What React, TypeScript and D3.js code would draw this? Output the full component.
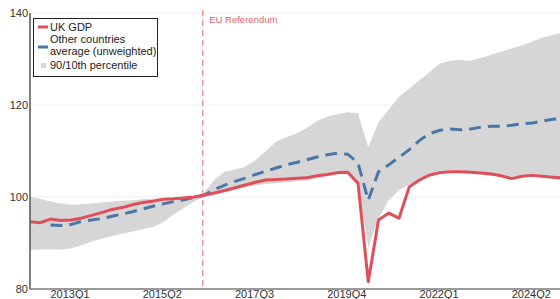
import React from 'react';
import * as d3 from 'd3';

// quarters 2012Q1 .. 2025Q1
const quarters = d3.range(2012, 2026).flatMap(y => [1, 2, 3, 4].map(q => `${y}Q${q}`)).slice(0, 53);

const ukGdp = [
  94.6, 94.4, 95.2, 94.9, 95.0, 95.4, 96.0, 96.6, 97.3, 97.7,
  98.3, 98.8, 99.1, 99.5, 99.6, 99.8, 100.0, 100.4, 100.9, 101.4,
  102.0, 102.6, 103.2, 103.7, 103.8, 103.9, 104.1, 104.2, 104.6, 104.9,
  105.3, 105.4, 103.0, 81.6, 95.0, 96.5, 95.4, 102.2, 103.7, 104.8,
  105.3, 105.5, 105.5, 105.4, 105.2, 105.0, 104.6, 104.0, 104.5, 104.7,
  104.5, 104.3, 104.1,
];

// starts at 2012Q3
const otherAvg = [
  null, null, 93.9, 93.8, 94.0, 94.7, 95.0, 95.3, 95.8, 96.3,
  96.8, 97.4, 98.0, 98.5, 99.0, 99.4, 99.9, 100.4, 101.6, 102.6,
  103.4, 104.1, 104.9, 105.6, 106.3, 107.0, 107.5, 108.1, 108.7, 109.2,
  109.5, 109.3, 107.4, 99.3, 105.5, 107.0, 108.6, 110.3, 112.3, 113.8,
  114.5, 114.8, 114.6, 114.8, 115.2, 115.4, 115.4, 115.6, 115.9, 116.1,
  116.5, 116.9, 117.1,
];

const p90 = [
  100.0, 99.6, 99.0, 98.6, 98.3, 98.4, 98.6, 98.8, 99.0, 99.2,
  99.3, 99.5, 99.6, 99.8, 99.9, 100.0, 100.0, 101.0, 103.8, 105.5,
  106.0, 106.6, 108.0, 110.0, 112.0, 113.0, 113.8, 115.0, 116.5, 117.5,
  118.0, 118.4, 118.2, 110.8, 116.2, 119.0, 121.8, 123.6, 125.4, 127.2,
  129.0, 129.6, 129.8, 129.6, 130.2, 130.9, 131.6, 132.3, 133.0, 133.8,
  134.6, 135.2, 135.8,
];

const p10 = [
  88.5, 88.6, 88.6, 88.6, 88.8, 89.5, 90.3, 90.9, 91.5, 92.0,
  92.5, 93.0, 93.5, 94.5, 96.2, 97.6, 99.0, 100.0, 100.4, 101.0,
  101.6, 102.1, 102.5, 102.8, 103.0, 103.2, 103.4, 103.6, 104.0, 104.5,
  104.9, 105.0, 102.5, 89.0, 95.4, 99.3, 101.5, 102.6, 103.8, 104.6,
  105.0, 105.2, 105.2, 105.1, 104.9, 104.7, 104.3, 103.8, 104.2, 104.4,
  104.2, 104.0, 103.8,
];

const yTicks = [80, 100, 120, 140];
const xTickLabels = ['2013Q1', '2015Q2', '2017Q3', '2019Q4', '2022Q1', '2024Q2'];
const referendum = '2016Q2';

const W = 560;
const H = 299;
const font = '"Liberation Sans", Arial, sans-serif';

const App = () => {
  const x = d3.scaleLinear().domain([0, 1]).range([30, 40.25]);
  const y = d3.scaleLinear().domain([80, 140]).range([289, 13]);
  const xi = (q: string) => x(quarters.indexOf(q));

  const area = d3.area<number>()
    .x((_, i) => x(i))
    .y0((_, i) => y(p10[i]))
    .y1((_, i) => y(p90[i]));

  const line = d3.line<number | null>()
    .defined(d => d != null)
    .x((_, i) => x(i))
    .y(d => y(d as number));

  return (
    <svg width={W} height={H} style={{ position: 'absolute', left: 0, top: 0, fontFamily: font }}>
      <defs>
        <clipPath id="plot"><rect x={30} y={0} width={W - 30} height={289} /></clipPath>
      </defs>
      <rect width={W} height={H} fill="#fff" />
      {yTicks.slice(1).map(t => (
        <line key={t} x1={30} x2={W} y1={y(t)} y2={y(t)} stroke="#efefef" />
      ))}
      <g clipPath="url(#plot)">
        <path d={area(p90) ?? ''} fill="#d6d6d6" />
        <line x1={xi(referendum) - 1.5} x2={xi(referendum) - 1.5} y1={10} y2={289}
          stroke="#e08a8e" strokeWidth={1.3} strokeDasharray="6,4" />
        <path d={line(otherAvg) ?? ''} fill="none" stroke="#4a76a8" strokeWidth={3}
          strokeDasharray="12,7" />
        <path d={line(ukGdp) ?? ''} fill="none" stroke="#df4f5a" strokeWidth={3}
          strokeLinejoin="round" />
      </g>
      <text x={xi(referendum) + 5} y={23} fontSize={9.5} fill="#d9666d">EU Referendum</text>
      <line x1={30} x2={30} y1={13} y2={289} stroke="#555" strokeWidth={1.5} />
      <line x1={30} x2={W} y1={289} y2={289} stroke="#777" strokeWidth={1.5} />
      {yTicks.map(t => (
        <text key={t} x={28} y={y(t) + 4} fontSize={11} fill="#333" textAnchor="end">{t}</text>
      ))}
      {xTickLabels.map(l => (
        <text key={l} x={xi(l) - 1} y={298} fontSize={11} fill="#333" textAnchor="middle">{l}</text>
      ))}
      <g fontSize={11} fill="#222">
        <rect x={33.5} y={18.5} width={124} height={58} fill="#fff" stroke="#222" />
        <line x1={38} x2={48} y1={27} y2={27} stroke="#df4f5a" strokeWidth={3} />
        <text x={50} y={31}>UK GDP</text>
        <line x1={38} x2={48} y1={47} y2={47} stroke="#4a76a8" strokeWidth={3} />
        <text x={50} y={43}>Other countries</text>
        <text x={50} y={55}>average (unweighted)</text>
        <rect x={41} y={63} width={5} height={5} fill="#d6d6d6" />
        <text x={50} y={69}>90/10th percentile</text>
      </g>
    </svg>
  );
};

export default App;
